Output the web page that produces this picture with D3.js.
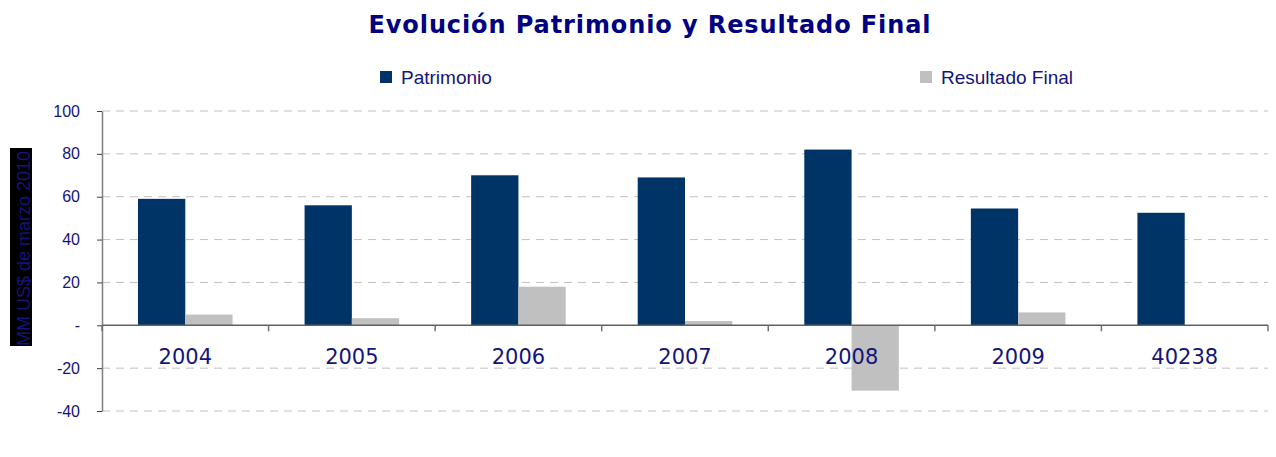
<!DOCTYPE html>
<html>
<head>
<meta charset="utf-8">
<script src="https://cdn.jsdelivr.net/npm/d3@7"></script>
<style>
  body { margin: 0; background: #fff; }
  svg { display: block; }
</style>
</head>
<body>
<div id="chart"></div>
<script>
// data
var categories = ['2004', '2005', '2006', '2007', '2008', '2009', '40238'];
var patrimonio = [59, 56, 70, 69, 82, 54.5, 52.5];
var resultadoFinal = [5, 3.3, 18, 2, -30.5, 6, 0];
var seriesNames = ['Patrimonio', 'Resultado Final'];
var yTicks = [-40, -20, 0, 20, 40, 60, 80, 100];

var navy = '#14147a';
var colors = ['#003366', '#c0c0c0'];

var width = 1276, height = 457;
var plotLeft = 102, plotRight = 1268, plotTop = 111, plotBottom = 411;

var svg = d3.select('#chart').append('svg')
    .attr('width', width)
    .attr('height', height);

var x = d3.scaleBand()
    .domain(categories)
    .range([plotLeft, plotRight])
    .paddingInner(0)
    .paddingOuter(0);

var inner = d3.scaleBand()
    .domain(seriesNames)
    .range([36, x.bandwidth() - 36]);

var y = d3.scaleLinear()
    .domain([-40, 100])
    .range([plotBottom, plotTop]);

// title
svg.append('text')
    .attr('x', 650)
    .attr('y', 33)
    .attr('text-anchor', 'middle')
    .style('font-family', 'DejaVu Sans')
    .style('font-weight', 'bold')
    .style('font-size', '24px')
    .style('letter-spacing', '0.9px')
    .style('fill', '#000080')
    .text('Evolución Patrimonio y Resultado Final');

// legend
var legendX = [380, 920];
seriesNames.forEach(function (name, i) {
    svg.append('rect')
        .attr('x', legendX[i])
        .attr('y', 71)
        .attr('width', 12)
        .attr('height', 12)
        .style('fill', colors[i]);
    svg.append('text')
        .attr('x', legendX[i] + 21)
        .attr('y', 84)
        .style('font-family', 'Liberation Sans')
        .style('font-size', '19px')
        .style('fill', navy)
        .text(name);
});

// grid lines
svg.append('g').selectAll('line')
    .data(yTicks.filter(function (d) { return d !== 0; }))
    .enter().append('line')
    .attr('x1', plotLeft)
    .attr('x2', plotRight)
    .attr('y1', function (d) { return y(d); })
    .attr('y2', function (d) { return y(d); })
    .style('stroke', '#c0c0c0')
    .style('stroke-width', 1)
    .style('stroke-dasharray', '8,6');

// y axis
var yAxis = d3.axisLeft(y)
    .tickValues(yTicks)
    .tickSize(5)
    .tickSizeOuter(0)
    .tickPadding(17)
    .tickFormat(function (d) { return d === 0 ? '-' : d; });

var yG = svg.append('g')
    .attr('transform', 'translate(' + plotLeft + ',0)')
    .call(yAxis);
yG.select('.domain').style('stroke', '#808080').style('stroke-width', 1.5);
yG.selectAll('.tick line').style('stroke', '#404040');
yG.selectAll('.tick text')
    .style('font-family', 'Liberation Sans')
    .style('font-size', '16px')
    .style('fill', navy);

// bars
var groups = svg.append('g').selectAll('g')
    .data(categories)
    .enter().append('g')
    .attr('transform', function (d) { return 'translate(' + x(d) + ',0)'; });

groups.selectAll('rect')
    .data(function (d, i) {
        return [
            { name: seriesNames[0], value: patrimonio[i] },
            { name: seriesNames[1], value: resultadoFinal[i] }
        ];
    })
    .enter().append('rect')
    .attr('x', function (d) { return inner(d.name); })
    .attr('width', inner.bandwidth())
    .attr('y', function (d) { return y(Math.max(0, d.value)); })
    .attr('height', function (d) { return Math.abs(y(d.value) - y(0)); })
    .style('fill', function (d, i) { return colors[i]; });

// x axis along zero
var xAxisG = svg.append('g');
xAxisG.append('line')
    .attr('x1', plotLeft)
    .attr('x2', plotRight)
    .attr('y1', y(0))
    .attr('y2', y(0))
    .style('stroke', '#606060')
    .style('stroke-width', 1.5);

var boundaries = categories.map(function (d) { return x(d); }).concat([plotRight]);
xAxisG.selectAll('.xtick')
    .data(boundaries)
    .enter().append('line')
    .attr('x1', function (d) { return d; })
    .attr('x2', function (d) { return d; })
    .attr('y1', y(0))
    .attr('y2', y(0) + 6)
    .style('stroke', '#707070')
    .style('stroke-width', 1.5);

xAxisG.selectAll('.xlabel')
    .data(categories)
    .enter().append('text')
    .attr('x', function (d) { return x(d) + x.bandwidth() / 2; })
    .attr('y', 364)
    .attr('text-anchor', 'middle')
    .style('font-family', 'DejaVu Sans')
    .style('font-size', '21px')
    .style('fill', navy)
    .text(function (d) { return d; });

// y axis title box
svg.append('clipPath')
    .attr('id', 'ytitle-clip')
    .append('rect')
    .attr('x', 10)
    .attr('y', 148)
    .attr('width', 22)
    .attr('height', 198);

svg.append('rect')
    .attr('x', 10)
    .attr('y', 148)
    .attr('width', 22)
    .attr('height', 198)
    .style('fill', '#000');

svg.append('g')
    .attr('clip-path', 'url(#ytitle-clip)')
    .append('text')
    .attr('transform', 'translate(30,346) rotate(-90)')
    .style('font-family', 'Liberation Sans')
    .style('font-size', '18px')
    .style('fill', navy)
    .text('MM US$ de marzo 2010');
</script>
</body>
</html>
